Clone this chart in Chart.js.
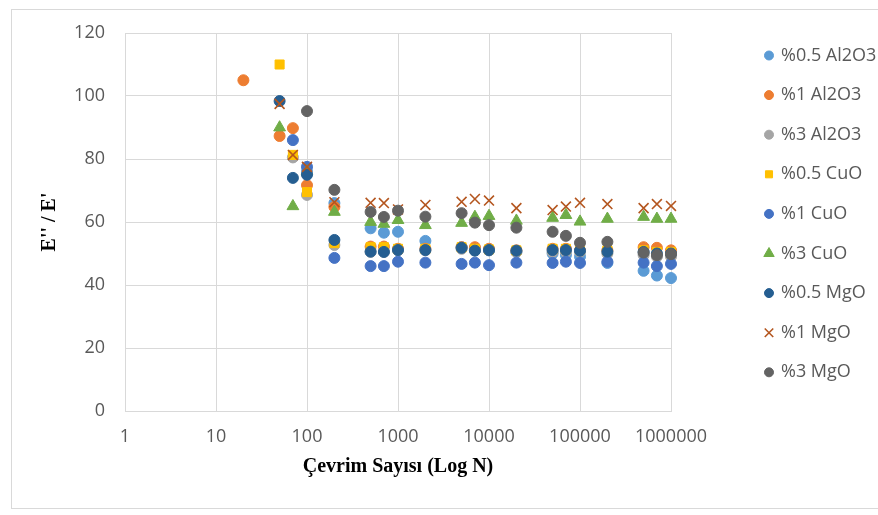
<!DOCTYPE html>
<html>
<head>
<meta charset="utf-8">
<script src="https://cdn.jsdelivr.net/npm/chart.js@4"></script>
<style>
  body { margin: 0; background: #fff; }
  #wrap { position: relative; width: 878px; height: 515px; overflow: hidden; }
  #frame { position: absolute; left: 11px; top: 9px; width: 900px; height: 500px; border: 1px solid #d9d9d9; box-sizing: border-box; }
  canvas { position: absolute; left: 0; top: 0; }
</style>
</head>
<body>
<div id="wrap">
  <div id="frame"></div>
  <canvas id="chart" width="878" height="515"></canvas>
</div>
<script>
// cycle counts (x) shared by all series
const cycles = [20, 50, 70, 100, 200, 500, 700, 1000, 2000, 5000, 7000, 10000, 20000, 50000, 70000, 100000, 200000, 500000, 700000, 1000000];
const xTicks = [1, 10, 100, 1000, 10000, 100000, 1000000];

// E''/E' values (null = no point)
const al05 = [null, null, null, 76, 66, 58, 56.6, 56.9, 54, 52, 51.5, 51, 50.5, 50, 49.5, 49, 47, 44.5, 43, 42.2];
const al1  = [105, 87.3, 89.8, 71.7, 64.8, 52.2, 52.2, 51.5, 51.5, 52, 52, 51.5, 51, 51.5, 51.5, 51, 51, 52, 51.8, 51];
const al3  = [null, null, 80.5, 68.6, 52.7, 50.5, 50.5, 51, 51, 51.5, 51, 51, 50.5, 50.5, 50.5, 50.5, 50, 49.5, 49, 49];
const cu05 = [null, 110, 81.3, 69.5, 53.3, 52, 52, 51.5, 51.5, 52, 51.5, 51.3, 51, 51.5, 51.5, 51.3, 51, 51, 50.5, 50.5];
const cu1  = [null, null, 86, 77.5, 48.6, 46, 46, 47.4, 47.1, 46.7, 47.1, 46.3, 47.1, 47, 47.4, 47, 47.4, 47.1, 46, 46.7];
const cu3  = [null, 90, 65, 76, 63.2, 60, 59.4, 60.6, 59, 59.7, 61.6, 61.9, 60.4, 61.3, 62.2, 60.1, 61, 61.6, 61, 61];
const mg05 = [null, 98.4, 74, 75, 54.3, 50.6, 50.5, 51.1, 51.1, 51.8, 50.9, 51.1, 50.9, 51.1, 51.1, 50.9, 50.6, 50.5, 50, 50];
const mg1  = [null, 97.5, 81.3, 77.5, 66.3, 66.1, 66, 64, 65.4, 66.4, 67.3, 66.8, 64.4, 63.8, 64.9, 66.1, 65.7, 64.4, 65.7, 65.1];
const mg3  = [null, null, null, 95.2, 70.2, 63.2, 61.6, 63.6, 61.7, 62.8, 59.8, 59, 58.2, 56.9, 55.6, 53.4, 53.7, 50.3, 49.5, 49.8];

const seriesNames = ['%0.5 Al2O3', '%1 Al2O3', '%3 Al2O3', '%0.5 CuO', '%1 CuO', '%3 CuO', '%0.5 MgO', '%1 MgO', '%3 MgO'];
const seriesValues = [al05, al1, al3, cu05, cu1, cu3, mg05, mg1, mg3];
const seriesColors = ['#5B9BD5', '#ED7D31', '#A5A5A5', '#FFC000', '#4472C4', '#70AD47', '#255E91', '#B4561F', '#636363'];
const seriesShapes = ['circle', 'circle', 'circle', 'rect', 'circle', 'triangle', 'circle', 'crossRot', 'circle'];

function pointSize(shape) {
    if (shape === 'rect') return 6.4;
    if (shape === 'triangle') return 6.8;
    if (shape === 'crossRot') return 7;
    return 5.5;
}

const datasets = seriesNames.map((name, i) => {
    const shape = seriesShapes[i];
    return {
        label: name,
        data: cycles.map((c, j) => ({ x: c, y: seriesValues[i][j] })).filter(p => p.y !== null),
        pointStyle: shape,
        pointRadius: pointSize(shape),
        pointHoverRadius: pointSize(shape),
        backgroundColor: seriesColors[i],
        borderColor: seriesColors[i],
        pointBorderWidth: shape === 'crossRot' ? 1.6 : 1,
        showLine: false,
        clip: false,
        order: 9 - i  // later series drawn on top, like the original
    };
});

// legend drawn by hand so the spacing matches
const legendPlugin = {
    id: 'sideLegend',
    afterDraw(chart) {
        const ctx = chart.ctx;
        ctx.save();
        seriesNames.forEach((name, i) => {
            const y = 55.5 + i * 39.6;
            const shape = seriesShapes[i];
            ctx.fillStyle = seriesColors[i];
            ctx.strokeStyle = seriesColors[i];
            ctx.lineWidth = shape === 'crossRot' ? 1.6 : 1;
            const r = shape === 'circle' ? 4.5 : (shape === 'rect' ? 5 : 6);
            Chart.helpers.drawPoint(ctx, { pointStyle: shape, radius: r, borderWidth: ctx.lineWidth }, 769, y);
            ctx.fillStyle = '#595959';
            ctx.font = '18px "Open Sans"';
            ctx.textBaseline = 'middle';
            ctx.textAlign = 'left';
            ctx.fillText(name, 781, y);
        });
        ctx.restore();
    }
};

new Chart(document.getElementById('chart'), {
    type: 'scatter',
    data: { datasets: datasets },
    options: {
        responsive: false,
        animation: false,
        layout: { padding: { left: 38, top: 33, right: 207, bottom: 0 } },
        plugins: { legend: { display: false }, tooltip: { enabled: false } },
        scales: {
            x: {
                type: 'logarithmic',
                min: 1,
                max: 1000000,
                afterBuildTicks: scale => { scale.ticks = xTicks.map(v => ({ value: v })); },
                afterFit: scale => { scale.height = 104; },
                ticks: {
                    color: '#595959',
                    font: { family: 'Open Sans', size: 18 },
                    padding: 15,
                    maxRotation: 0,
                    autoSkip: false,
                    callback: v => String(v)
                },
                grid: { color: '#d9d9d9', drawTicks: false },
                border: { color: '#d9d9d9' },
                title: {
                    display: true,
                    text: 'Çevrim Sayısı (Log N)',
                    color: '#000',
                    font: { family: 'Liberation Serif', size: 20, weight: 'bold' },
                    padding: { top: 0, bottom: 36 }
                }
            },
            y: {
                min: 0,
                max: 120,
                ticks: {
                    stepSize: 20,
                    color: '#595959',
                    font: { family: 'Open Sans', size: 18 },
                    padding: 20
                },
                afterFit: scale => { scale.width = 87; },
                grid: { color: '#d9d9d9', drawTicks: false },
                border: { color: '#d9d9d9' },
                title: {
                    display: true,
                    text: "E'' / E'",
                    color: '#000',
                    font: { family: 'Liberation Serif', size: 20, weight: 'bold' },
                    padding: { top: 0, bottom: 0 }
                }
            }
        }
    },
    plugins: [legendPlugin]
});
</script>
</body>
</html>
